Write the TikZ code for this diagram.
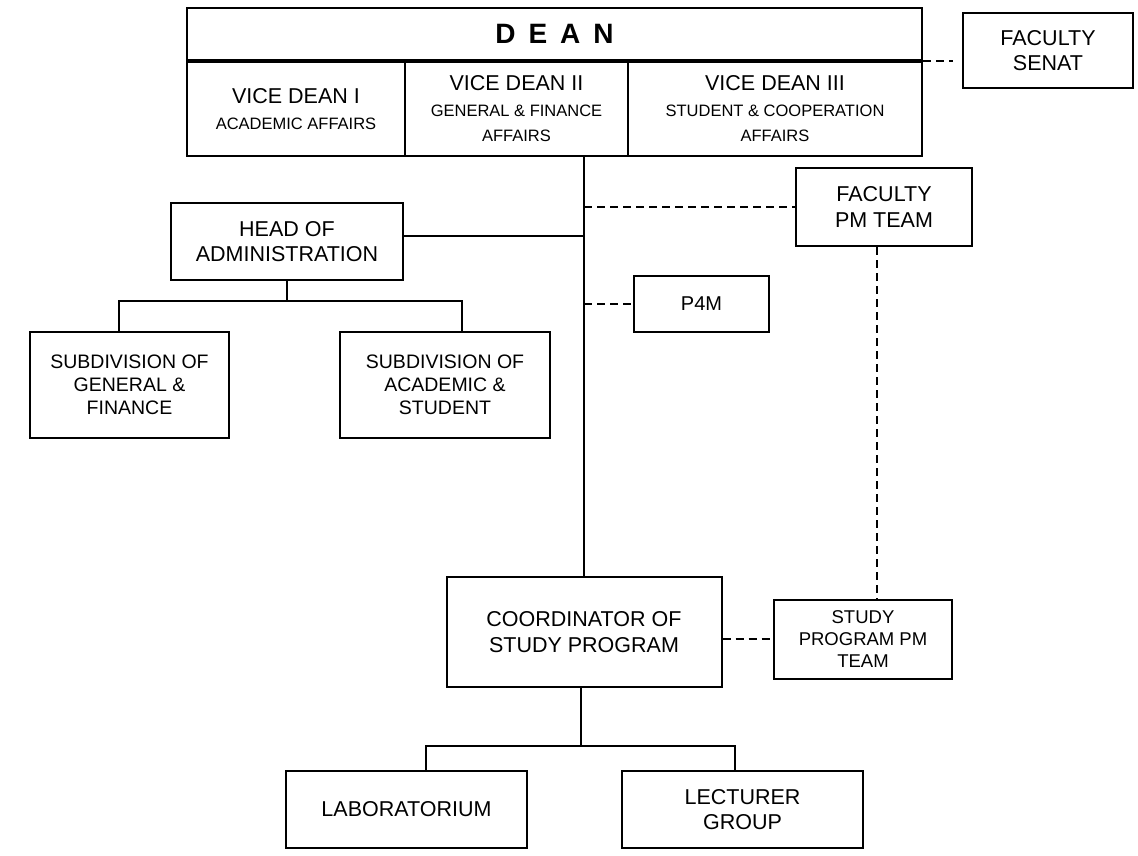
\documentclass[tikz,border=0pt]{standalone}
\usepackage{fontspec}
\setmainfont{Liberation Sans}
\newcommand\subtxt{\fontsize{16.5}{20}\selectfont}
\newcommand\deanfont{\fontsize{28}{30}\selectfont\bfseries\spaceskip 13pt\relax}

\begin{document}
\begin{tikzpicture}[
  x=1pt, y=-1pt,
  box/.style={draw, line width=2pt, align=center, inner sep=0pt,
    font=\fontsize{21.5}{25.5}\selectfont},
  vdbox/.style={box, line width=1.4pt, minimum height=94},
  link/.style={line width=2pt},
  dashlink/.style={line width=2pt, dash pattern=on 8pt off 5pt},
  ]
  \useasboundingbox (0,0) rectangle (1138,855);

  % Dean and vice deans
  \node[box, line width=2.2pt, minimum width=735, minimum height=52,
    font=\deanfont] (dean) at (554.5,34) {D E A N};
  \node[vdbox, minimum width=218] (vdone) at (296,109)
    {VICE DEAN I\\\subtxt ACADEMIC AFFAIRS};
  \node[vdbox, minimum width=223] (vdtwo) at (516.5,109)
    {VICE DEAN II\\\subtxt GENERAL \& FINANCE\\\subtxt AFFAIRS};
  \node[vdbox, minimum width=294] (vdthree) at (775,109)
    {VICE DEAN III\\\subtxt STUDENT \& COOPERATION\\\subtxt AFFAIRS};
  \node[box, minimum width=170, minimum height=75] (senat) at (1048,50.5)
    {FACULTY\\SENAT};

  % Middle level
  \node[box, minimum width=176, minimum height=78] (fpm) at (884,207)
    {FACULTY\\PM TEAM};
  \node[box, minimum width=232, minimum height=77] (head) at (287,241.5)
    {HEAD OF\\ADMINISTRATION};
  \node[box, minimum width=135, minimum height=56, font=\fontsize{20}{24}\selectfont]
    (p4m) at (701.5,304) {P4M};
  \node[box, minimum width=199, minimum height=106, font=\fontsize{19.5}{23}\selectfont]
    (subgf) at (129.5,385) {SUBDIVISION OF\\GENERAL \&\\FINANCE};
  \node[box, minimum width=210, minimum height=106, font=\fontsize{19.5}{23}\selectfont]
    (subas) at (445,385) {SUBDIVISION OF\\ACADEMIC \&\\STUDENT};

  % Study program level
  \node[box, minimum width=275, minimum height=110] (coord) at (584,632)
    {COORDINATOR OF\\STUDY PROGRAM};
  \node[box, minimum width=178, minimum height=79, font=\fontsize{18.5}{22}\selectfont]
    (spm) at (863,639) {STUDY\\PROGRAM PM\\TEAM};
  \node[box, minimum width=241, minimum height=77] (lab) at (406.5,809.5)
    {LABORATORIUM};
  \node[box, minimum width=241, minimum height=77] (lect) at (742.5,809.5)
    {LECTURER\\GROUP};

  % Lines
  \draw[dashlink] (dean.south east) -- ++(30,0);
  \draw[link] (vdtwo.south -| coord.north) -- (coord.north);
  \draw[dashlink] (fpm.west -| coord.north) -- (fpm.west);
  \coordinate (hj) at ([yshift=6pt]head.east);
  \draw[link] (hj) -- (hj -| coord.north);
  \draw[dashlink] (p4m.west -| coord.north) -- (p4m.west);

  \draw[link] (head.south) -- ++(0,20) coordinate (hbus);
  \draw[link] ([xshift=-10.5pt]subgf.north) |- (hbus) -| ([xshift=17pt]subas.north);

  \coordinate (pmtop) at ([xshift=-7pt]fpm.south);
  \draw[dashlink] (pmtop) -- (pmtop |- spm.north);
  \draw[dashlink] (spm.west -| coord.east) -- (spm.west);

  \draw[link] ([xshift=-3pt]coord.south) -- ++(0,58) coordinate (cbus);
  \draw[link] ([xshift=19.5pt]lab.north) |- (cbus) -| ([xshift=-7.5pt]lect.north);
\end{tikzpicture}
\end{document}
